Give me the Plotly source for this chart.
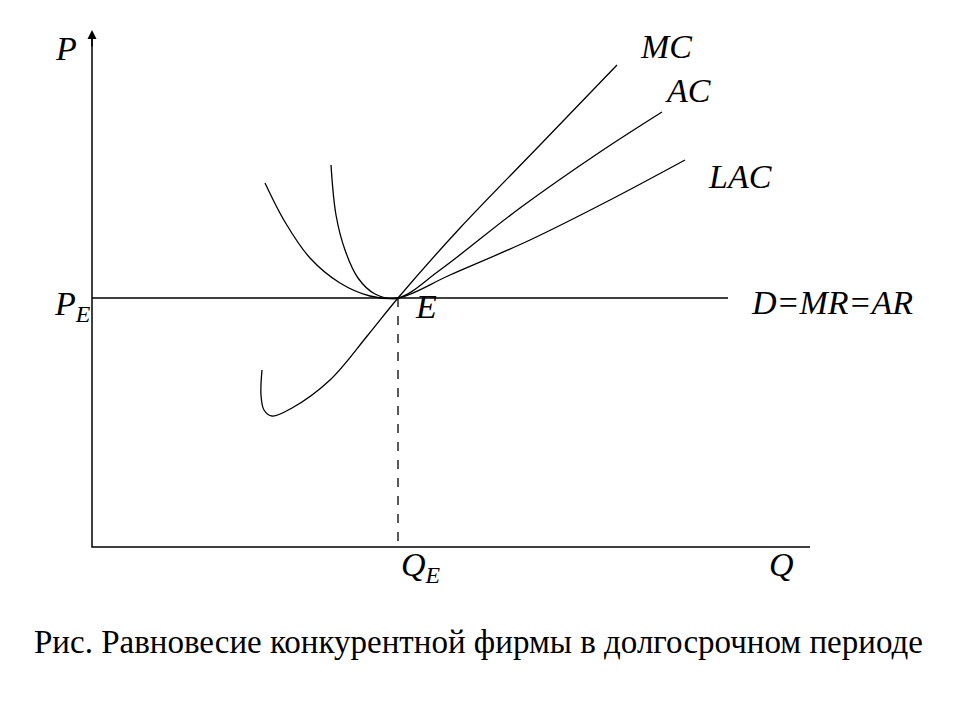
import plotly.graph_objects as go

# curve points (pixel coords, y grows downward)
mc_x = [262, 261, 264, 272, 292, 330, 368, 398, 460, 540, 617]
mc_y = [370, 395, 410, 416, 408, 380, 335, 298, 228, 145, 65]
ac_x = [331, 336, 345, 358, 375, 398, 440, 520, 600, 662]
ac_y = [165, 215, 250, 278, 294, 298, 270, 208, 152, 112]
lac_x = [265, 285, 310, 340, 370, 398, 450, 530, 610, 685]
lac_y = [183, 222, 258, 283, 296, 298, 275, 240, 200, 160]

pe_y = 298
qe_x = 398
origin = (92, 547)
d_end = 728
q_end = 810
p_top = 38

labels = [("P", 66, 48), ("MC", 666, 46), ("AC", 688, 90), ("LAC", 740, 176),
          ("P<sub>E</sub>", 72, 306), ("E", 426, 306), ("D=MR=AR", 832, 302),
          ("Q<sub>E</sub>", 421, 567), ("Q", 781, 564)]
caption = "Рис. Равновесие конкурентной фирмы в долгосрочном периоде"

fig = go.Figure()
line = dict(color="black", width=1.3)
for xs, ys in [(mc_x, mc_y), (ac_x, ac_y), (lac_x, lac_y)]:
    fig.add_trace(go.Scatter(x=xs, y=ys, mode="lines", line=dict(shape="spline", **line)))
fig.add_trace(go.Scatter(x=[origin[0], d_end], y=[pe_y, pe_y], mode="lines", line=line))
fig.add_trace(go.Scatter(x=[qe_x, qe_x], y=[pe_y, origin[1]], mode="lines",
                         line=dict(color="black", width=1.3, dash="dash")))
fig.add_trace(go.Scatter(x=[origin[0], origin[0], q_end], y=[p_top, origin[1], origin[1]],
                         mode="lines", line=dict(color="black", width=1.5)))
fig.add_annotation(x=origin[0], y=p_top - 8, ax=origin[0], ay=p_top + 10, xref="x", yref="y",
                   axref="x", ayref="y", showarrow=True, arrowhead=2, arrowsize=1.2,
                   arrowwidth=1.5, arrowcolor="black", text="")

for t, x, y in labels:
    fig.add_annotation(x=x, y=y, text="<i>" + t + "</i>", showarrow=False,
                       font=dict(family="Liberation Serif", size=34, color="black"))
fig.add_annotation(x=478, y=642, text=caption, showarrow=False,
                   font=dict(family="Liberation Serif", size=33, color="black"))

fig.update_layout(width=960, height=720, margin=dict(l=0, r=0, t=0, b=0),
                  plot_bgcolor="white", paper_bgcolor="white", showlegend=False,
                  xaxis=dict(range=[8, 968], visible=False),
                  yaxis=dict(range=[728, 8], visible=False))
fig.write_html("out.html")
